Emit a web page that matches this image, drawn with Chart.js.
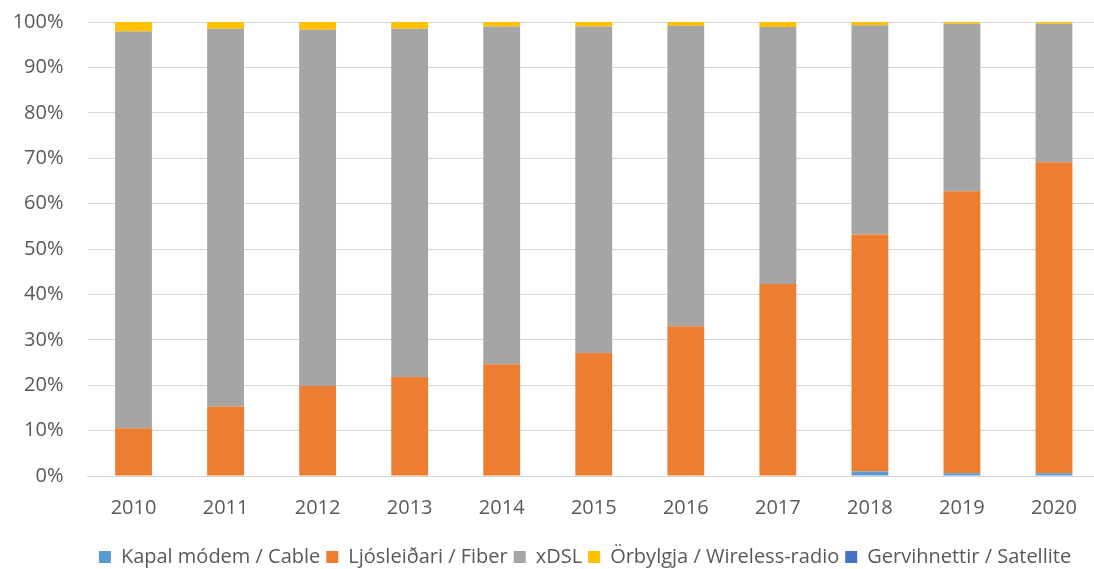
<!DOCTYPE html>
<html>
<head>
<meta charset="utf-8">
<script src="https://cdn.jsdelivr.net/npm/chart.js@4.4.0/dist/chart.umd.min.js"></script>
<style>
    html, body { margin: 0; padding: 0; background: #fff; overflow: hidden; }
    #wrap { position: relative; width: 1100px; height: 569px; }
</style>
</head>
<body>
<div id="wrap"><canvas id="bar-chart-area"></canvas></div>
<script>
var years = ['2010', '2011', '2012', '2013', '2014', '2015', '2016', '2017', '2018', '2019', '2020'];

// share of connections, percent
var cable = [0, 0, 0, 0, 0, 0, 0, 0, 1.0, 0.6, 0.6];
var fiber = [10.5, 15.3, 19.8, 21.8, 24.6, 27.1, 33.0, 42.3, 52.2, 62.1, 68.5];
var xdsl = [87.4, 83.2, 78.5, 76.7, 74.4, 71.9, 66.2, 56.6, 46.1, 36.9, 30.5];
var wireless = [2.1, 1.5, 1.7, 1.5, 1.0, 1.0, 0.8, 1.1, 0.7, 0.4, 0.4];
var satellite = [0, 0, 0, 0, 0, 0, 0, 0, 0, 0, 0];

var textColor = '#595959';
var gridColor = '#d9d9d9';
Chart.defaults.font.family = "'Open Sans', sans-serif";
Chart.defaults.font.size = 20;
Chart.defaults.color = textColor;

// legend sits centred under the plot, not under the whole canvas
var shiftLegend = {
    id: 'shiftLegend',
    afterLayout: function (chart) {
        chart.legend.left = 70;
    }
};

var configBar = {
    type: 'bar',
    data: {
        labels: years,
        datasets: [
            {label: 'Kapal módem / Cable', data: cable, backgroundColor: '#5b9bd5'},
            {label: 'Ljósleiðari / Fiber', data: fiber, backgroundColor: '#ed7d31'},
            {label: 'xDSL', data: xdsl, backgroundColor: '#a5a5a5'},
            {label: 'Örbylgja / Wireless-radio', data: wireless, backgroundColor: '#ffc000'},
            {label: 'Gervihnettir / Satellite', data: satellite, backgroundColor: '#4472c4'}
        ]
    },
    options: {
        responsive: true,
        maintainAspectRatio: false,
        animation: false,
        datasets: {
            bar: {categoryPercentage: 1, barPercentage: 0.4}
        },
        layout: {
            padding: {left: 0, right: 0, top: 22, bottom: -8}
        },
        scales: {
            x: {
                stacked: true,
                afterFit: function (axis) {
                    axis.height += 1;
                },
                grid: {display: false, drawTicks: false},
                border: {display: true, color: gridColor, width: 1},
                ticks: {padding: 20, color: textColor}
            },
            y: {
                stacked: true,
                min: 0,
                max: 100,
                afterFit: function (axis) {
                    axis.width = 87.5;
                    axis.paddingTop = 0;
                    axis.paddingBottom = 0;
                },
                grid: {color: gridColor, lineWidth: 1, drawTicks: false},
                border: {display: false},
                ticks: {
                    stepSize: 10,
                    padding: 24,
                    color: textColor,
                    callback: function (v) {
                        return v + '%';
                    }
                }
            }
        },
        plugins: {
            legend: {
                position: 'bottom',
                labels: {
                    boxWidth: 12,
                    boxHeight: 12,
                    padding: 6,
                    color: textColor
                }
            },
            tooltip: {enabled: false}
        }
    },
    plugins: [shiftLegend]
};

var myChartBar = document.getElementById('bar-chart-area').getContext('2d');
var myBar = new Chart(myChartBar, configBar);
</script>
</body>
</html>
